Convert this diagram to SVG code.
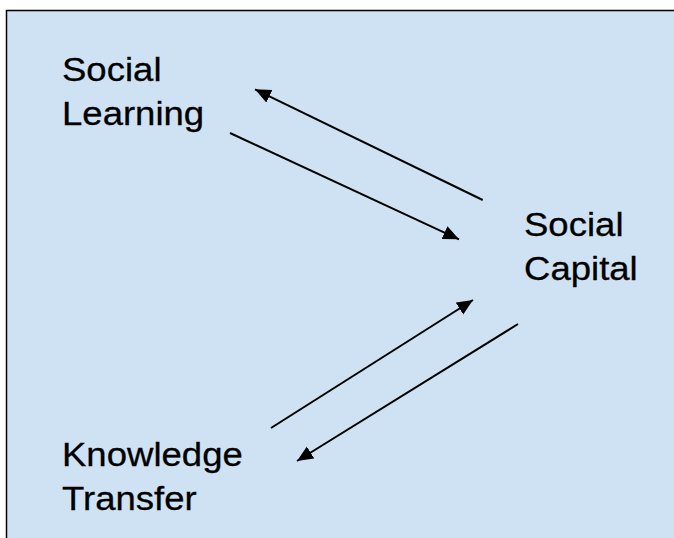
<svg xmlns="http://www.w3.org/2000/svg" width="674" height="538" viewBox="0 0 674 538">
  <style>
    .lbl { font-family: "Liberation Sans", Arial, sans-serif; font-size: 34px; fill: #000; stroke: #000; stroke-width: 0.3; }
    .link { stroke: #000; stroke-width: 2; fill: none; marker-end: url(#head); }
  </style>
  <defs>
    <marker id="head" markerUnits="userSpaceOnUse" markerWidth="17" markerHeight="15" refX="16" refY="7" orient="auto">
      <path d="M0,0 L16,7 L0,14 z" fill="#000"/>
    </marker>
  </defs>

  <!-- background panel -->
  <rect x="6.5" y="10.5" width="680" height="540" fill="#cfe2f3" stroke="#000" stroke-width="1.5"/>

  <!-- labels are slightly widened horizontally -->
  <g id="node-social-learning">
    <text class="lbl" transform="matrix(1.075 0 0 1 62 81)">Social</text>
    <text class="lbl" transform="matrix(1.075 0 0 1 62 125)">Learning</text>
  </g>
  <g id="node-social-capital">
    <text class="lbl" transform="matrix(1.075 0 0 1 524 236)">Social</text>
    <text class="lbl" transform="matrix(1.075 0 0 1 524 280)">Capital</text>
  </g>
  <g id="node-knowledge-transfer">
    <text class="lbl" transform="matrix(1.075 0 0 1 62 466)">Knowledge</text>
    <text class="lbl" transform="matrix(1.075 0 0 1 62 510)">Transfer</text>
  </g>

  <g id="connectors">
    <line class="link" x1="482.7" y1="200" x2="255" y2="89.3"/>
    <line class="link" x1="230" y1="133" x2="459" y2="239.3"/>
    <line class="link" x1="271" y1="428" x2="473" y2="300"/>
    <line class="link" x1="518" y1="324" x2="297" y2="461"/>
  </g>
</svg>
